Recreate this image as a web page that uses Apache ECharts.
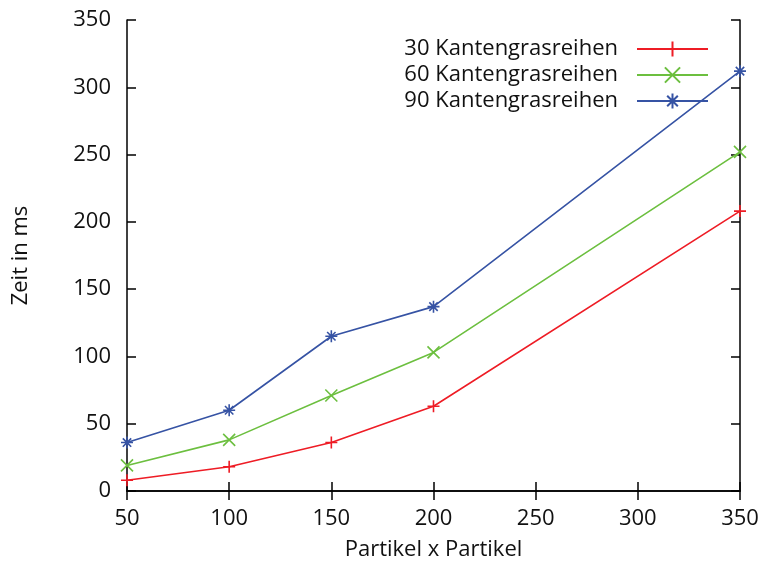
<!DOCTYPE html>
<html><head><meta charset="utf-8">
<script src="https://cdn.jsdelivr.net/npm/echarts@6/dist/echarts.min.js"></script>
<style>html,body{margin:0;padding:0;background:#fff}#c{width:763px;height:567px}</style>
</head><body><div id="c"></div>
<script>
const xValues = [50, 100, 150, 200, 350];
const series30 = [8, 18, 36, 63, 208];
const series60 = [19, 38, 71, 103, 252];
const series90 = [36, 60, 115, 137, 312];
const seriesNames = ['30 Kantengrasreihen', '60 Kantengrasreihen', '90 Kantengrasreihen'];
const colors = ['#ee1c25', '#6cbf3f', '#3653a4'];
const FONT = 'Open Sans';

const plusPath = 'path://M5,0L5,10M0,5L10,5';
const crossPath = 'path://M0,0L10,10M0,10L10,0';
const starPath = 'path://M5,0L5,10M0,5L10,5M1.5,1.5L8.5,8.5M1.5,8.5L8.5,1.5';
const symbols = [plusPath, crossPath, starPath];
const allData = [series30, series60, series90];

const chart = echarts.init(document.getElementById('c'), null, {renderer: 'canvas'});
const axisCommon = {
  type: 'value', min: 50, max: 350, interval: 50,
  axisLine: {show: true, lineStyle: {color: '#000', width: 1.5}},
  axisTick: {show: true, inside: true, length: 9, lineStyle: {color: '#000', width: 1.5}},
  splitLine: {show: false}
};
chart.setOption({
  animation: false,
  backgroundColor: '#fff',
  grid: {left: 127, right: 23, top: 20, bottom: 76},
  legend: {
    orient: 'vertical', right: 49, top: 32, align: 'right',
    itemWidth: 71, itemHeight: 19, itemGap: 2,
    textStyle: {fontFamily: FONT, fontSize: 22, color: '#111', padding: [0, 14, 0, 0], lineHeight: 24},
    data: seriesNames
  },
  xAxis: [
    Object.assign({}, axisCommon, {
      position: 'bottom',
      name: 'Partikel x Partikel', nameLocation: 'middle', nameGap: 48,
      nameTextStyle: {fontFamily: FONT, fontSize: 22, color: '#111'},
      axisLabel: {fontFamily: FONT, fontSize: 22, color: '#111', margin: 17}
    }),
    Object.assign({}, axisCommon, {position: 'top', axisLabel: {show: false}})
  ],
  yAxis: [
    Object.assign({}, axisCommon, {
      min: 0, max: 350, interval: 50, position: 'left',
      name: 'Zeit in ms', nameLocation: 'middle', nameGap: 95,
      nameTextStyle: {fontFamily: FONT, fontSize: 22, color: '#111'},
      axisLabel: {fontFamily: FONT, fontSize: 22, color: '#111', margin: 16}
    }),
    Object.assign({}, axisCommon, {min: 0, max: 350, interval: 50, position: 'right', axisLabel: {show: false}})
  ],
  series: seriesNames.map((name, i) => ({
    name: name,
    type: 'line',
    data: xValues.map((x, j) => [x, allData[i][j]]),
    symbol: symbols[i],
    symbolSize: 12,
    showAllSymbol: true,
    lineStyle: {color: colors[i], width: 1.6},
    itemStyle: {color: 'rgba(0,0,0,0)', borderColor: colors[i], borderWidth: 1.6},
    emphasis: {disabled: true}
  }))
});
</script></body></html>
